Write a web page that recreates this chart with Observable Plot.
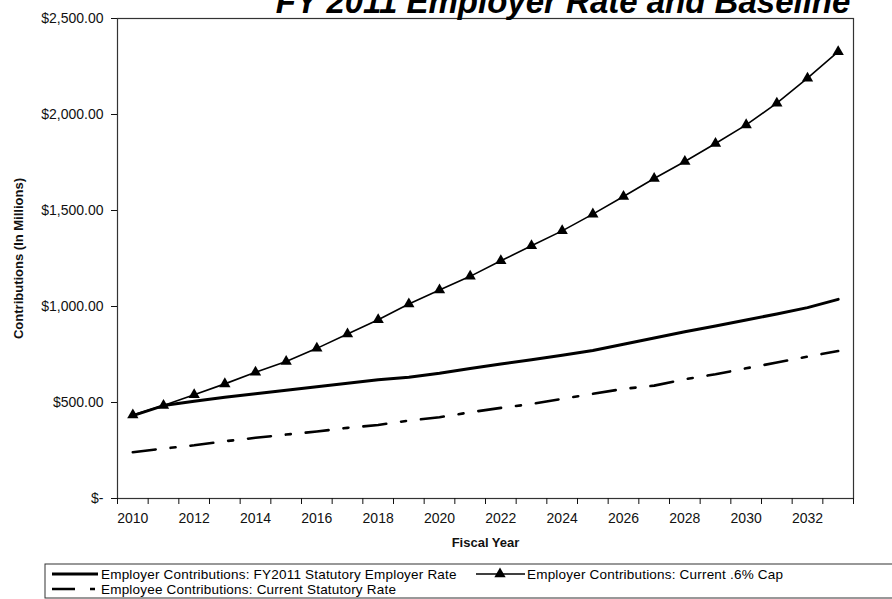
<!DOCTYPE html>
<html>
<head>
<meta charset="utf-8">
<script src="https://cdn.jsdelivr.net/npm/d3@7"></script>
<script src="https://cdn.jsdelivr.net/npm/@observablehq/plot@0.6"></script>
<style>
  html, body { margin: 0; padding: 0; background: #fff; overflow: hidden; }
  #wrap { position: relative; width: 892px; height: 599px; }
  #wrap > svg { position: absolute; left: 0; top: 0; }
</style>
</head>
<body>
<div id="wrap"></div>
<script>
// ---- Data ($ millions) ----
const years = [2010, 2011, 2012, 2013, 2014, 2015, 2016, 2017, 2018, 2019, 2020, 2021,
               2022, 2023, 2024, 2025, 2026, 2027, 2028, 2029, 2030, 2031, 2032, 2033];
const statutoryEmployer = [432, 484, 506, 527, 545, 564, 582, 600, 619, 632, 652, 677,
                           701, 723, 746, 771, 803, 836, 868, 898, 930, 961, 994, 1037];
const capEmployer = [435, 484, 540, 597, 657, 714, 782, 857, 931, 1013, 1086, 1157,
                     1238, 1316, 1394, 1481, 1573, 1667, 1755, 1849, 1946, 2059, 2189, 2327];
const employeeContrib = [241, 260, 277, 298, 316, 333, 349, 368, 383, 406, 423, 449,
                         472, 492, 519, 545, 571, 588, 621, 647, 678, 708, 739, 768];
const yTicks = [0, 500, 1000, 1500, 2000, 2500];
const xTickLabels = [2010, 2012, 2014, 2016, 2018, 2020, 2022, 2024, 2026, 2028, 2030, 2032];
const seriesNames = [
  "Employer Contributions: FY2011 Statutory Employer Rate",
  "Employer Contributions: Current .6% Cap",
  "Employee Contributions: Current Statutory Rate"
];
const chartTitle = "FY 2011 Employer Rate and Baseline";
const xTitle = "Fiscal Year";
const yTitle = "Contributions (In Millions)";

// ---- Build ----
const FONT = "'Liberation Sans', Arial, Helvetica, sans-serif";
const rows = vals => years.map((yr, i) => ({year: yr, value: vals[i]}));
const boundaries = years.map(y => y - 0.5).concat([years[years.length - 1] + 0.5]);
const DASH = "23,15,5,15";

const chart = Plot.plot({
  width: 892,
  height: 599,
  marginTop: 18,
  marginBottom: 101,
  marginLeft: 117,
  marginRight: 39,
  style: {fontFamily: FONT, background: "transparent", color: "#111"},
  x: {domain: [boundaries[0], boundaries[boundaries.length - 1]]},
  y: {domain: [yTicks[0], yTicks[yTicks.length - 1]]},
  marks: [
    Plot.frame({stroke: "#333", strokeWidth: 1.2}),
    Plot.axisY({ticks: yTicks, tickSize: 6, tickPadding: 8, fontSize: 14, label: null,
      tickFormat: d => d === 0 ? "$-" : "$" + d3.format(",.2f")(d)}),
    Plot.axisX({ticks: boundaries, tickSize: 6, tickFormat: () => "", label: null}),
    Plot.axisX({ticks: xTickLabels, tickSize: 0, tickPadding: 15, fontSize: 14, label: null,
      tickFormat: d => String(d)}),
    Plot.line(rows(employeeContrib), {x: "year", y: "value", stroke: "#000",
      strokeWidth: 2.6, strokeDasharray: DASH}),
    Plot.line(rows(statutoryEmployer), {x: "year", y: "value", stroke: "#000", strokeWidth: 3}),
    Plot.line(rows(capEmployer), {x: "year", y: "value", stroke: "#000", strokeWidth: 1.6}),
    Plot.dot(rows(capEmployer), {x: "year", y: "value", symbol: "triangle", r: 4.2,
      fill: "#000", stroke: "none"}),
    Plot.text([xTitle], {frameAnchor: "bottom", dy: 48, fontWeight: "bold", fontSize: 13}),
    Plot.text([yTitle], {frameAnchor: "left", dx: -99, rotate: -90, textAnchor: "middle",
      fontWeight: "bold", fontSize: 13})
  ]
});
document.getElementById("wrap").appendChild(chart);

// ---- Title and legend overlay ----
const ov = d3.select("#wrap").append("svg")
  .attr("width", 892).attr("height", 599)
  .style("pointer-events", "none")
  .attr("font-family", FONT);

ov.append("text")
  .attr("x", 563).attr("y", 13)
  .attr("text-anchor", "middle")
  .attr("font-weight", "bold").attr("font-style", "italic")
  .attr("font-size", 33).attr("fill", "#000")
  .text(chartTitle);

const lg = ov.append("g");
lg.append("rect").attr("x", 45).attr("y", 564).attr("width", 880).attr("height", 34)
  .attr("fill", "none").attr("stroke", "#333").attr("stroke-width", 1);

const LFS = 13.5, LLS = 0.2;
// row 1: solid
lg.append("line").attr("x1", 52).attr("x2", 98).attr("y1", 574).attr("y2", 574)
  .attr("stroke", "#000").attr("stroke-width", 3);
lg.append("text").attr("x", 101).attr("y", 578.5).attr("font-size", LFS)
  .attr("letter-spacing", LLS).attr("fill", "#000").text(seriesNames[0]);
// row 1: triangle
lg.append("line").attr("x1", 476).attr("x2", 525).attr("y1", 574).attr("y2", 574)
  .attr("stroke", "#000").attr("stroke-width", 1.6);
lg.append("path").attr("d", d3.symbol(d3.symbolTriangle, Math.PI * 4.2 * 4.2)())
  .attr("transform", "translate(500,574)").attr("fill", "#000");
lg.append("text").attr("x", 527).attr("y", 578.5).attr("font-size", LFS)
  .attr("letter-spacing", LLS).attr("fill", "#000").text(seriesNames[1]);
// row 2: dashed
lg.append("line").attr("x1", 52).attr("x2", 96).attr("y1", 589).attr("y2", 589)
  .attr("stroke", "#000").attr("stroke-width", 2.6).attr("stroke-dasharray", DASH);
lg.append("text").attr("x", 101).attr("y", 594).attr("font-size", LFS)
  .attr("letter-spacing", LLS).attr("fill", "#000").text(seriesNames[2]);
</script>
</body>
</html>
